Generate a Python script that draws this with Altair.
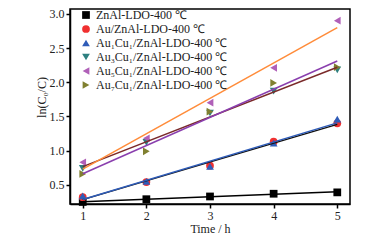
import altair as alt
import pandas as pd

times = [1, 2, 3, 4, 5]
y_ticks = [0.5, 1.0, 1.5, 2.0, 2.5, 3.0]
series_names = [
    "ZnAl-LDO-400 ℃",
    "Au/ZnAl-LDO-400 ℃",
    "Au₁Cu₁/ZnAl-LDO-400 ℃",
    "Au₃Cu₁/ZnAl-LDO-400 ℃",
    "Au₅Cu₁/ZnAl-LDO-400 ℃",
    "Au₇Cu₁/ZnAl-LDO-400 ℃",
]
znal = [0.25, 0.29, 0.33, 0.37, 0.39]
au = [0.32, 0.54, 0.78, 1.13, 1.40]
au1cu1 = [0.34, 0.55, 0.77, 1.11, 1.46]
au3cu1 = [0.74, 1.12, 1.55, 1.87, 2.18]
au5cu1 = [0.83, 1.18, 1.70, 2.21, 2.90]
au7cu1 = [0.66, 0.99, 1.57, 1.99, 2.22]
values = [znal, au, au1cu1, au3cu1, au5cu1, au7cu1]

marker_colors = ["#000000", "#F03030", "#2F5CB8", "#2E8080", "#B060B8", "#808030"]
marker_shapes = ["square", "circle", "triangle-up", "triangle-down", "triangle-left", "triangle-right"]
line_colors = ["#000000", "#111111", "#2F5CB8", "#7A2A2A", "#FF8C3A", "#8A3FAE"]

rows = []
for name, vals in zip(series_names, values):
    for t, v in zip(times, vals):
        rows.append({"t": t, "v": v, "series": name})
df = pd.DataFrame(rows)

font = "Liberation Serif"
xscale = alt.Scale(domain=[0.8, 5.2], nice=False, zero=False)
yscale = alt.Scale(domain=[0.22, 3.07], nice=False, zero=False)

x_enc = alt.X("t:Q", scale=xscale, title="Time / h",
              axis=alt.Axis(values=times, format="d", grid=False, tickSize=4,
                            labelPadding=2, titlePadding=2))
y_enc = alt.Y("v:Q", scale=yscale, title="ln(C₀/C)",
              axis=alt.Axis(values=y_ticks, format=".1f", grid=False,
                            tickSize=4, labelPadding=2, titleX=-29, titleY=88,
                            titleBaseline="middle", labelOverlap=False, labelFlush=False))

base = alt.Chart(df)

lines = base.transform_regression(
    "t", "v", groupby=["series"], extent=[1, 5]
).mark_line(strokeWidth=1.5, clip=True).encode(
    x=x_enc,
    y=y_enc,
    stroke=alt.Stroke("series:N", scale=alt.Scale(domain=series_names, range=line_colors), legend=None),
    detail="series:N",
)

points = base.mark_point(filled=True, opacity=1, size=60).encode(
    x=x_enc,
    y=y_enc,
    color=alt.Color("series:N", scale=alt.Scale(domain=series_names, range=marker_colors),
                    sort=series_names, title=None,
                    legend=alt.Legend(orient="none", legendX=10, legendY=0, padding=0,
                                      rowPadding=2, symbolSize=60, symbolStrokeWidth=0,
                                      labelFontSize=12, labelFont=font, labelOffset=4)),
    shape=alt.Shape("series:N", scale=alt.Scale(domain=series_names, range=marker_shapes),
                    sort=series_names, title=None),
)

chart = alt.layer(points, lines).properties(
    width=280, height=195,
    background="white",
    autosize=alt.AutoSizeParams(type="none"),
    padding={"left": 62, "top": 1, "right": 10, "bottom": 30},
).configure_view(stroke="black", strokeWidth=1.5).configure_axis(
    labelFont=font, titleFont=font, labelFontSize=12, titleFontSize=12,
    labelColor="#222222", titleColor="#222222", titleFontWeight="normal",
    domainColor="black", tickColor="black", domainWidth=1.5, tickWidth=1.5,
    labelOverlap=False,
).configure_legend(labelFont=font, labelFontSize=12, labelColor="#222222")

chart.save("out.html", embed_options={"renderer": "svg", "actions": False})
